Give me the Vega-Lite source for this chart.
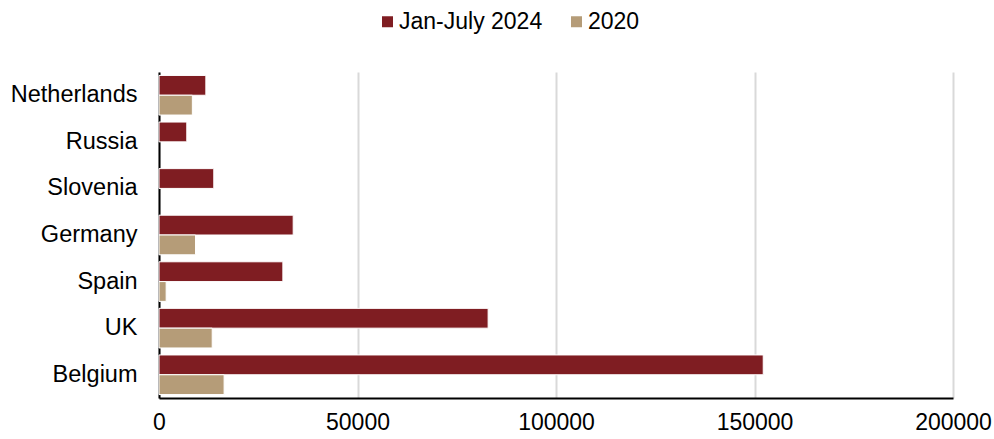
{
  "$schema": "https://vega.github.io/schema/vega-lite/v6.json",
  "width": 794,
  "height": 326,
  "autosize": "none",
  "padding": {"left": 159, "top": 72, "right": 41, "bottom": 41},
  "background": "white",
  "data": {
    "values": [
      {"country": "Netherlands", "period": "Jan-July 2024", "value": 11800},
      {"country": "Netherlands", "period": "2020", "value": 8400},
      {"country": "Russia", "period": "Jan-July 2024", "value": 7000},
      {"country": "Slovenia", "period": "Jan-July 2024", "value": 13800},
      {"country": "Germany", "period": "Jan-July 2024", "value": 33800},
      {"country": "Germany", "period": "2020", "value": 9200},
      {"country": "Spain", "period": "Jan-July 2024", "value": 31200},
      {"country": "Spain", "period": "2020", "value": 1800},
      {"country": "UK", "period": "Jan-July 2024", "value": 82900},
      {"country": "UK", "period": "2020", "value": 13400},
      {"country": "Belgium", "period": "Jan-July 2024", "value": 152200},
      {"country": "Belgium", "period": "2020", "value": 16400}
    ]
  },
  "mark": {"type": "bar", "stroke": "white", "strokeWidth": 1},
  "encoding": {
    "y": {
      "field": "country",
      "type": "nominal",
      "sort": ["Netherlands", "Russia", "Slovenia", "Germany", "Spain", "UK", "Belgium"],
      "scale": {"paddingInner": 0.15, "paddingOuter": 0.074},
      "axis": {
        "title": null,
        "ticks": false,
        "labelPadding": 22,
        "labelFont": "Liberation Sans",
        "labelFontSize": 23.5,
        "labelColor": "#000000",
        "domainColor": "#000000",
        "domainWidth": 2,
        "grid": false
      }
    },
    "yOffset": {
      "field": "period",
      "type": "nominal",
      "sort": ["Jan-July 2024", "2020"],
      "scale": {"domain": ["Jan-July 2024", "2020"], "paddingInner": 0, "paddingOuter": 0}
    },
    "x": {
      "field": "value",
      "type": "quantitative",
      "scale": {"domain": [0, 200000], "nice": false},
      "axis": {
        "title": null,
        "values": [0, 50000, 100000, 150000, 200000],
        "format": "d",
        "ticks": false,
        "labelPadding": 13,
        "labelFont": "Liberation Sans",
        "labelFontSize": 23,
        "labelColor": "#000000",
        "labelFlush": false,
        "domainColor": "#000000",
        "domainWidth": 2,
        "grid": true,
        "gridColor": "#D9D9D9",
        "gridWidth": 2
      }
    },
    "color": {
      "field": "period",
      "type": "nominal",
      "scale": {"domain": ["Jan-July 2024", "2020"], "range": ["#7F1D22", "#B59C78"]},
      "legend": {
        "title": null,
        "orient": "none",
        "direction": "horizontal",
        "legendX": 217,
        "legendY": -62,
        "symbolType": "square",
        "symbolSize": 121,
        "symbolStrokeWidth": 0,
        "symbolStrokeColor": "transparent",
        "labelFont": "Liberation Sans",
        "labelFontSize": 23,
        "labelColor": "#000000",
        "labelOffset": 0,
        "columnPadding": 22
      }
    }
  },
  "config": {"view": {"stroke": null}}
}
